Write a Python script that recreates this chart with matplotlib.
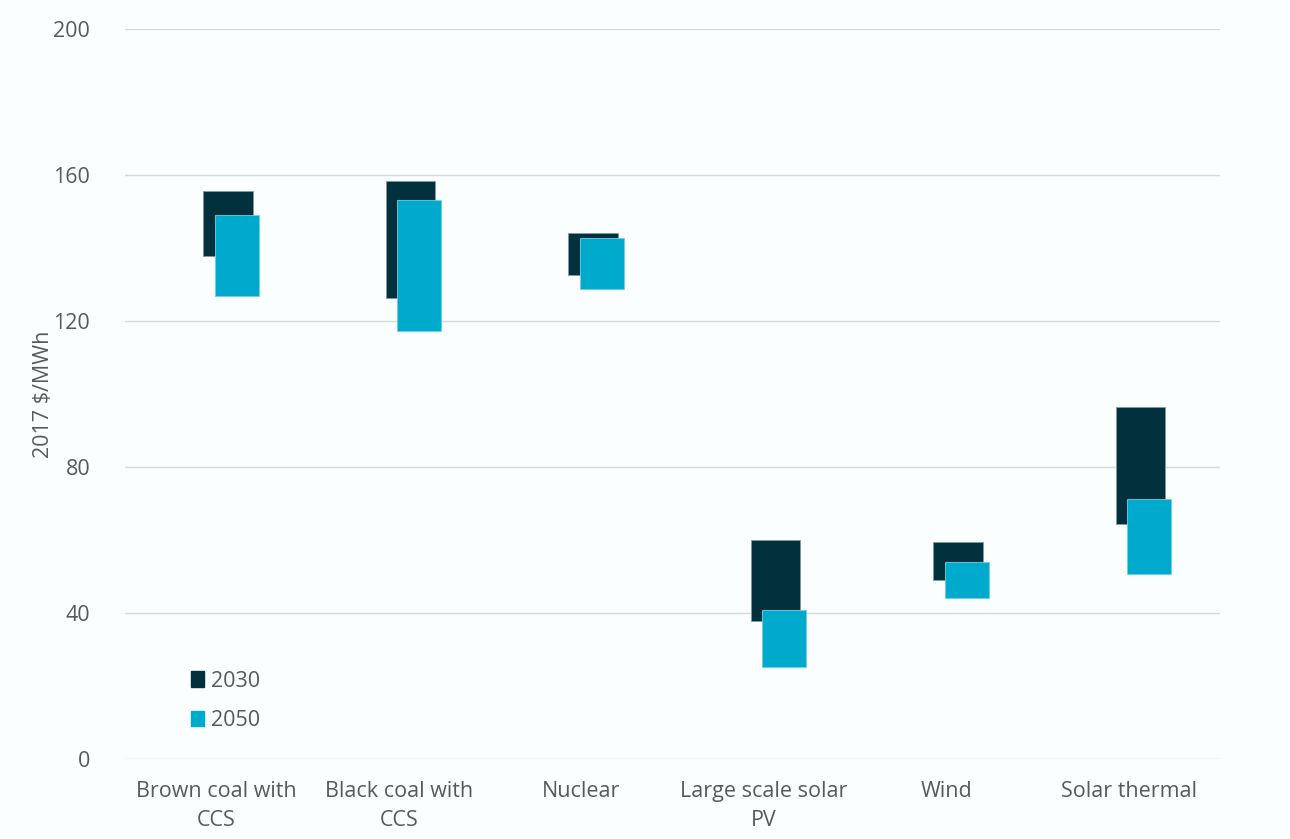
import matplotlib
matplotlib.use("Agg")
import matplotlib.pyplot as plt
from matplotlib.patches import Patch

categories = ["Brown coal with\nCCS", "Black coal with\nCCS", "Nuclear",
              "Large scale solar\nPV", "Wind", "Solar thermal"]
low_2030 = [137.9, 126.3, 132.6, 37.8, 49.0, 64.4]
high_2030 = [155.7, 158.3, 144.0, 60.0, 59.5, 96.5]
low_2050 = [126.8, 117.3, 128.7, 25.2, 44.2, 50.8]
high_2050 = [149.0, 153.1, 142.7, 40.8, 54.0, 71.3]
yticks = [0, 40, 80, 120, 160, 200]
series_labels = ["2030", "2050"]

c2030 = "#03303D"
c2050 = "#00AACC"
bg = "#FAFEFF"
txt = "#595959"

plt.rcParams['font.family'] = ['Open Sans', 'DejaVu Sans']
fs = 15.5

fig = plt.figure(figsize=(12.9, 8.39), dpi=100, facecolor=bg)
ax = fig.add_axes([125/1290, 1-759/839, 1095/1290, 730/839], facecolor=bg)

x = list(range(len(categories)))
ax.bar([i - 0.07 for i in x], [h - l for h, l in zip(high_2030, low_2030)],
       bottom=low_2030, width=0.27, align='edge', color=c2030,
       edgecolor="#7f9aa3", linewidth=0.6, zorder=3)
ax.bar([i - 0.008 for i in x], [h - l for h, l in zip(high_2050, low_2050)],
       bottom=low_2050, width=0.24, align='edge', color=c2050,
       edgecolor="#6fd0e4", linewidth=0.6, zorder=4)

ax.set_xlim(-0.5, len(categories) - 0.5)
ax.set_ylim(0, 200)
ax.set_yticks(yticks)
ax.set_yticklabels([str(v) for v in yticks])
ax.set_xticks(x)
ax.set_xticklabels(categories, fontsize=fs, color=txt, linespacing=1.5)
ax.tick_params(axis='y', labelsize=fs, labelcolor=txt, length=0, pad=25)
ax.tick_params(axis='x', length=0, pad=16)
ax.grid(axis='y', color="#D9D9D9", linewidth=1, zorder=0)
for s in ax.spines.values():
    s.set_visible(False)

ax.set_ylabel("2017 $/MWh", fontsize=15.5, color=txt,
              family=['Liberation Sans Narrow', 'Open Sans', 'DejaVu Sans'])
ax.yaxis.set_label_coords(-71/1095, 0.5)

handles = [Patch(facecolor=c2030, edgecolor=c2030),
           Patch(facecolor=c2050, edgecolor=c2050)]
leg = ax.legend(handles, series_labels, loc='lower left',
                bbox_to_anchor=(191/1290, 1-731/839), bbox_transform=fig.transFigure,
                frameon=False, fontsize=fs, handlelength=0.6, handleheight=0.75,
                handletextpad=0.35, labelspacing=0.85, borderpad=0, borderaxespad=0)
for t in leg.get_texts():
    t.set_color(txt)

fig.savefig("out.png", dpi=100, facecolor=bg)
